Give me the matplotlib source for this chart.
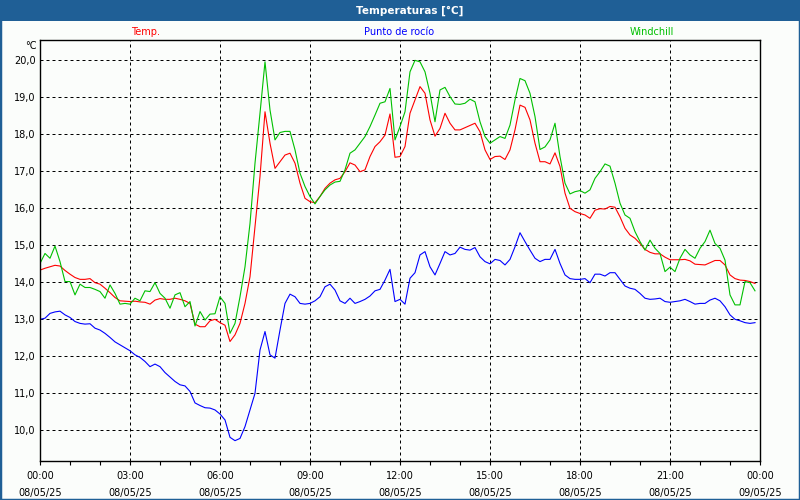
import numpy as np
import matplotlib
matplotlib.use("Agg")
import matplotlib.pyplot as plt
from matplotlib.patches import Rectangle
from matplotlib.ticker import MultipleLocator, FuncFormatter

# lecturas cada 10 minutos, 08/05/25 00:00 -> 23:50
temp = [14.33, 14.38, 14.42, 14.46, 14.44, 14.32, 14.22, 14.13, 14.08, 14.08, 14.10, 13.99,
        13.95, 13.84, 13.72, 13.59, 13.50, 13.49, 13.48, 13.49, 13.47, 13.46, 13.41, 13.52,
        13.56, 13.54, 13.54, 13.57, 13.54, 13.50, 13.43, 12.87, 12.80, 12.80, 12.96, 13.00,
        12.91,
        12.84, 12.40, 12.58, 12.89, 13.43, 14.15, 15.50, 16.86, 18.61, 17.76, 17.08, 17.26,
        17.44, 17.49, 17.22, 16.68, 16.27, 16.18, 16.15, 16.32, 16.54, 16.68, 16.77, 16.81,
        16.99, 17.23, 17.17, 16.99, 17.04, 17.40, 17.67, 17.80, 17.98, 18.55, 17.38, 17.40,
        17.67, 18.57, 18.93, 19.29, 19.11, 18.39, 17.95, 18.16, 18.57, 18.30, 18.12, 18.12,
        18.18, 18.24, 18.30, 18.07, 17.58, 17.32, 17.40, 17.41, 17.32, 17.58, 18.12, 18.79,
        18.73, 18.39, 17.76, 17.26, 17.26, 17.20, 17.50, 17.13, 16.41, 16.00, 15.91, 15.86,
        15.82, 15.73, 15.95, 15.99, 15.98, 16.05, 16.03, 15.77, 15.46, 15.28, 15.19, 15.05,
        14.89, 14.81, 14.77, 14.77, 14.68, 14.61, 14.61, 14.61, 14.62, 14.58, 14.49, 14.48,
        14.47, 14.53, 14.59, 14.59, 14.47, 14.20, 14.10, 14.06, 14.05, 14.02, 13.97]

rocio = [13.00, 13.03, 13.16, 13.20, 13.22, 13.12, 13.05, 12.94, 12.89, 12.87, 12.88, 12.76,
         12.71, 12.62, 12.51, 12.39, 12.31, 12.23, 12.15, 12.04, 11.97, 11.86, 11.72, 11.79,
         11.72, 11.56, 11.44, 11.32, 11.23, 11.20, 11.05, 10.74, 10.67, 10.61, 10.60, 10.55,
         10.44,
         10.28, 9.81, 9.72, 9.78, 10.10, 10.55, 11.00, 12.17, 12.67, 12.04, 11.95, 12.71,
         13.43, 13.68, 13.61, 13.43, 13.41, 13.43, 13.50, 13.61, 13.88, 13.95, 13.79, 13.50,
         13.43, 13.57, 13.43, 13.48, 13.54, 13.63, 13.77, 13.81, 14.06, 14.35, 13.48, 13.54,
         13.41, 14.11, 14.26, 14.74, 14.83, 14.42, 14.20, 14.51, 14.83, 14.74, 14.78, 14.95,
         14.89, 14.87, 14.94, 14.69, 14.56, 14.50, 14.62, 14.59, 14.47, 14.62, 14.96, 15.34,
         15.10, 14.87, 14.65, 14.56, 14.62, 14.62, 14.89, 14.51, 14.20, 14.10, 14.08, 14.08,
         14.10, 13.99, 14.22, 14.22, 14.17, 14.26, 14.26, 14.08, 13.90, 13.84, 13.81, 13.70,
         13.57, 13.54, 13.55, 13.57, 13.48, 13.46, 13.48, 13.50, 13.54, 13.48, 13.41, 13.43,
         13.43, 13.52, 13.57, 13.50, 13.34, 13.12, 13.00, 12.96, 12.91, 12.89, 12.91]

windchill = [14.51, 14.78, 14.65, 14.98, 14.56, 14.02, 14.02, 13.66, 13.95, 13.86, 13.86, 13.81,
             13.75, 13.57, 13.93, 13.70, 13.41, 13.43, 13.41, 13.57, 13.50, 13.77, 13.75, 13.99,
             13.70, 13.57, 13.30, 13.66, 13.72, 13.34, 13.48, 12.82, 13.21, 12.98, 13.14, 13.15,
             13.61,
             13.43, 12.62, 12.89, 13.61, 14.42, 15.59, 17.22, 18.57, 19.96, 18.66, 17.85, 18.05,
             18.08, 18.08, 17.58, 16.95, 16.59, 16.32, 16.12, 16.32, 16.50, 16.63, 16.71, 16.73,
             17.04, 17.49, 17.58, 17.76, 17.94, 18.21, 18.52, 18.84, 18.88, 19.24, 17.85, 18.21,
             18.61, 19.69, 20.00, 19.96, 19.69, 19.11, 18.34, 19.20, 19.27, 19.02, 18.82, 18.81,
             18.84, 18.95, 18.88, 18.34, 17.94, 17.76, 17.85, 17.94, 17.89, 18.25, 18.93, 19.51,
             19.45, 19.11, 18.48, 17.59, 17.66, 17.85, 18.30, 17.40, 16.68, 16.39, 16.45, 16.48,
             16.41, 16.50, 16.81, 16.99, 17.20, 17.14, 16.68, 16.14, 15.82, 15.73, 15.37, 15.10,
             14.87, 15.14, 14.92, 14.78, 14.29, 14.41, 14.29, 14.65, 14.89, 14.74, 14.65, 14.92,
             15.10, 15.41, 15.05, 14.92, 14.60, 13.66, 13.39, 13.39, 14.02, 13.99, 13.77]

horas_tick = ["00:00", "03:00", "06:00", "09:00", "12:00", "15:00", "18:00", "21:00", "00:00"]
fechas_tick = ["08/05/25"] * 8 + ["09/05/25"]

horas = np.arange(len(temp)) * 10 / 60.0

W, H = 800, 500
fig = plt.figure(figsize=(8, 5), dpi=100)
fig.patch.set_facecolor("#fbfdfb")

# barra de titulo y borde
azul = "#1f5f96"
fig.patches.append(Rectangle((0, 1 - 21 / H), 1, 21 / H, transform=fig.transFigure,
                             facecolor=azul, edgecolor="none", zorder=0))
fig.patches.append(Rectangle((0, 0), 1, 1, transform=fig.transFigure, fill=False,
                             edgecolor=azul, linewidth=2.5, zorder=1))
fig.text(410 / W, 1 - 10.5 / H, "Temperaturas [°C]", color="white", fontsize=7.5,
         fontweight="bold", ha="center", va="center")

ax = fig.add_axes([40 / W, 39 / H, 720 / W, 421 / H])
ax.set_facecolor("#fbfdfb")

ax.plot(horas, temp, color="#ff0000", lw=0.8)
ax.plot(horas, rocio, color="#0000ff", lw=0.8)
ax.plot(horas, windchill, color="#00c000", lw=0.8)

ax.set_xlim(0, 24)
ax.set_ylim(9.17, 20.55)
ax.xaxis.set_major_locator(MultipleLocator(3))
ax.xaxis.set_minor_locator(MultipleLocator(1))
ax.yaxis.set_major_locator(MultipleLocator(1))
ax.set_xticks(np.arange(0, 25, 3))
ax.set_xticklabels([h + "\n" + f for h, f in zip(horas_tick, fechas_tick)], linespacing=1.85)
ax.yaxis.set_major_formatter(FuncFormatter(lambda v, p: ("%.1f" % v).replace(".", ",")))

ax.tick_params(axis="x", which="both", length=3, width=0.8, direction="out", pad=4,
               labelsize=7, colors="black")
ax.tick_params(axis="y", length=0, pad=3, labelsize=7)
ax.grid(True, which="major", color="black", linestyle=(0, (3, 3)), linewidth=0.72)
for s in ax.spines.values():
    s.set_linewidth(1.0)
    s.set_color("black")

fig.text(37 / W, 1 - 46 / H, "°C", fontsize=7, ha="right", va="center")
fig.text(146 / W, 1 - 32 / H, "Temp.", color="#ff0000", fontsize=7, ha="center", va="center")
fig.text(399 / W, 1 - 32 / H, "Punto de rocío", color="#0000ff", fontsize=7, ha="center", va="center")
fig.text(652 / W, 1 - 32 / H, "Windchill", color="#00c000", fontsize=7, ha="center", va="center")

fig.savefig("out.png", dpi=100, facecolor=fig.get_facecolor())
